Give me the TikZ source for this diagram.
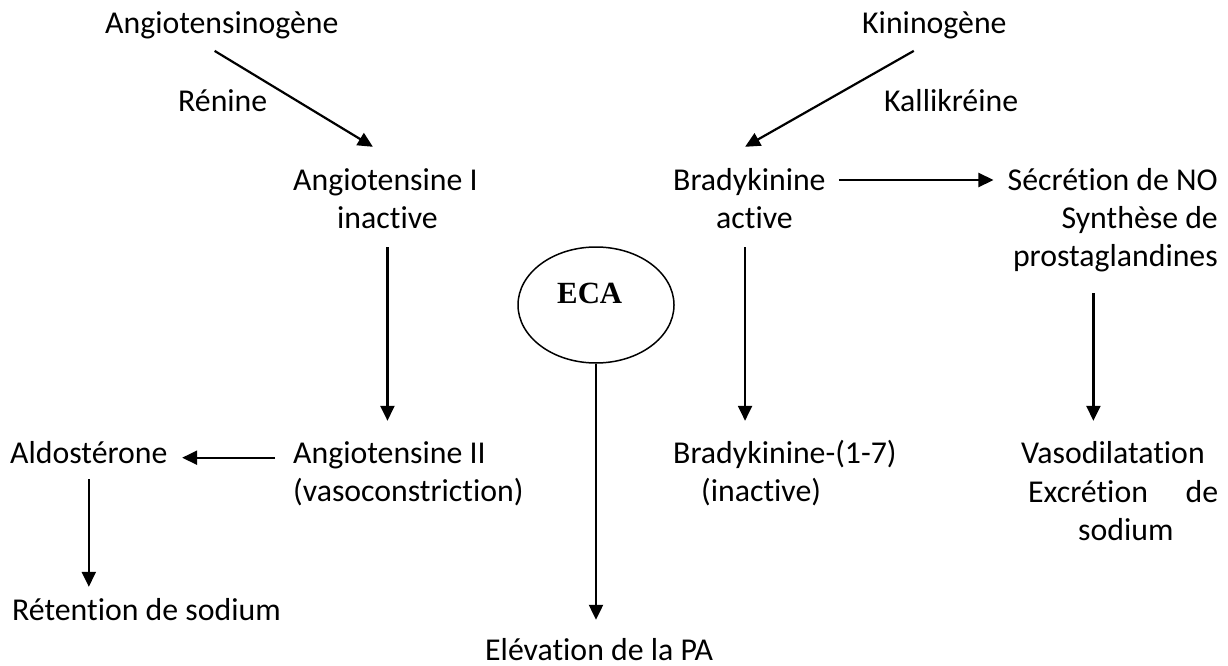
\documentclass[tikz,border=0pt]{standalone}
\usepackage{fontspec}
\setmainfont{Carlito}[Ligatures=NoCommon]
\newfontfamily\ecafont{Liberation Serif}
\usetikzlibrary{arrows.meta,shapes.geometric,calc}
\begin{document}
\begin{tikzpicture}[x=1pt,y=-1pt,
  txt/.style={inner sep=0pt, text height=22pt, text depth=7pt, font=\fontsize{31.8}{38}\selectfont},
  arr/.style={line width=2.2pt, -{Triangle[length=15pt,width=14pt]}},
  ecabox/.style={draw, ellipse, line width=1.5pt, minimum width=156pt, minimum height=116pt, inner sep=0pt},
  ]
\useasboundingbox (0,0) rectangle (1228,666);
% top row
\node[txt, anchor=base west] (angiogen) at (105,34) {Angiotensinogène};
\node[txt, anchor=base west] (renine) at (178,112) {Rénine};
\node[txt, anchor=base west] (kinin) at (862,34) {Kininogène};
\node[txt, anchor=base west] (kalli) at (884,112) {Kallikréine};
% middle row
\node[txt, anchor=base west] (ang1) at (293,190) {Angiotensine I};
\node[txt, anchor=base west] (ang1b) at (337,228) {inactive};
\node[txt, anchor=base west] (brady) at (673,190) {Bradykinine};
\node[txt, anchor=base west] (bradyb) at (716,228) {active};
\node[txt, anchor=base east] (secr) at (1218,190) {Sécrétion de NO};
\node[txt, anchor=base east] (synth) at (1218,228) {Synthèse de};
\node[txt, anchor=base east] (prosta) at (1218,266) {prostaglandines};
% ECA
\node[ecabox] (eca) at (596,305) {};
\node[inner sep=0pt, anchor=base west, font=\ecafont\bfseries\fontsize{30.8}{36}\selectfont] (ecatxt) at (557,303) {ECA};
% lower row
\node[txt, anchor=base west] (aldo) at (10,463) {Aldostérone};
\node[txt, anchor=base west] (ang2) at (293,463) {Angiotensine II};
\node[txt, anchor=base west] (ang2b) at (293,501) {(vasoconstriction)};
\node[txt, anchor=base west] (brady7) at (673,463) {Bradykinine-(1-7)};
\node[txt, anchor=base west] (brady7b) at (701,501) {(inactive)};
\node[txt, anchor=base west] (vaso) at (1021,463) {Vasodilatation};
\node[txt, anchor=base west] (excr) at (1028,502) {\makebox[190pt][s]{Excrétion de}};
\node[txt, anchor=base west] (sod) at (1078,540) {sodium};
\node[txt, anchor=base west] (reten) at (12,620) {Rétention de sodium};
\node[txt, anchor=base west] (elev) at (485,660) {Elévation de la PA};
% connectors
\draw[arr] ($(angiogen.south)+(-7.2,9.7)$) -- ($(ang1.north west)+(79.9,-21)$);
\draw[arr] ($(kinin.south)+(-20.6,9.7)$) -- ($(brady.north)+(-4.3,-21)$);
\draw[arr] ($(brady.east)+(13,-2.5)$) -- ($(secr.west)+(-14,-2.5)$);
\draw[arr] ($(ang1b.south)+(0,12)$) -- ($(ang1b.south |- ang2.north)+(0,-20)$);
\draw[arr] ($(bradyb.south)+(-9.4,12)$) -- ($(bradyb.south |- brady7.north)+(-9.4,-20)$);
\draw[arr] ($(prosta.south)+(-22,20)$) -- ($(prosta.south |- vaso.north)+(-22,-20)$);
\draw[arr] (eca.south) -- ($(eca.south |- elev.north)+(0,-18)$);
\draw[arr] ($(aldo.south)+(0,9)$) -- ($(aldo.south |- reten.north)+(0,-11)$);
\draw[arr] ($(ang2.west)+(-18,2.2)$) -- ($(aldo.east)+(14.5,2.2)$);
\end{tikzpicture}
\end{document}
